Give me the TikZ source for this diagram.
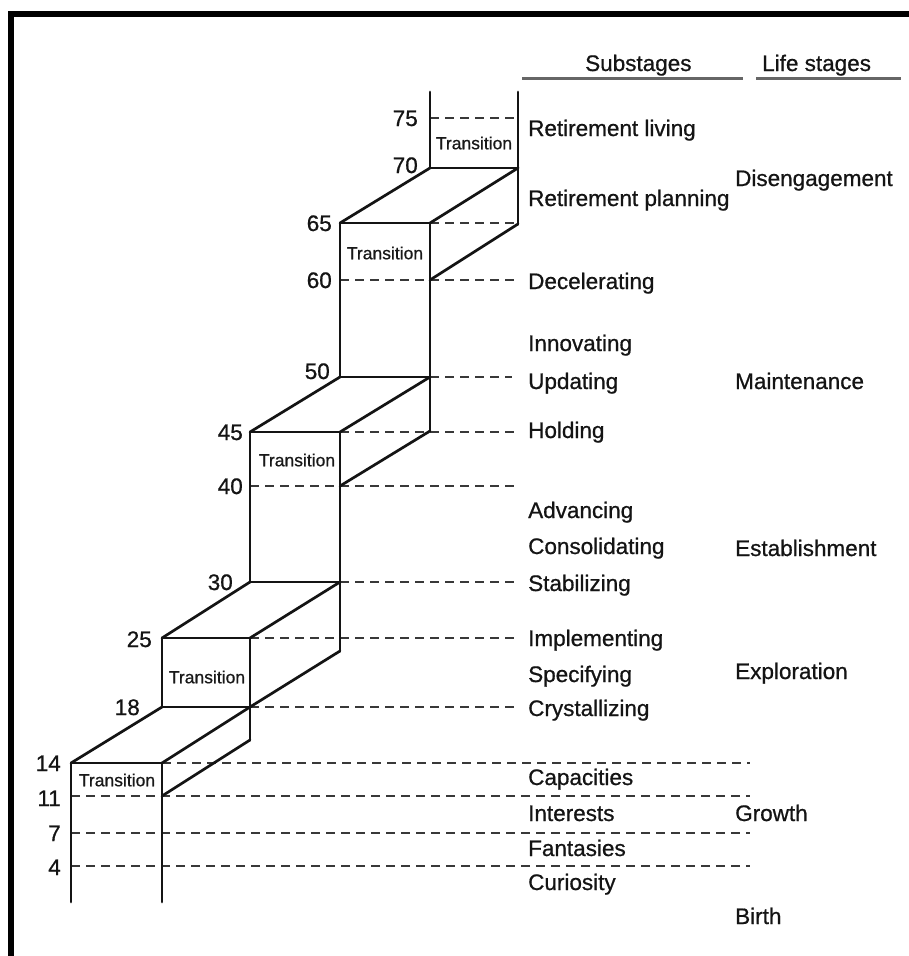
\documentclass[tikz,border=0pt]{standalone}
\usepackage{fontspec}
\setmainfont{Liberation Sans}[FakeBold=0.7]
\begin{document}
\begin{tikzpicture}[x=1pt,y=-1pt,
  edge/.style={line width=2.7pt, black!92, line cap=round, line join=round},
  guide/.style={line width=2.6pt, black!78, dash pattern=on 9pt off 6pt},
  rule/.style={line width=3pt, black!60},
  age/.style={anchor=base east, inner sep=0pt, text=black!92, font=\fontsize{22.5}{24}\selectfont},
  sub/.style={anchor=base west, inner sep=0pt, text=black!92, font=\fontsize{22.5}{26}\selectfont},
  trans/.style={inner sep=0pt, text=black!90, font=\fontsize{17.5}{20}\selectfont},
]
\useasboundingbox (0,0) rectangle (909,956);
\fill[white] (0,0) rectangle (909,956);

% frame along the top and left edges
\draw[line width=6pt, line join=miter] (11,960) -- (11,14) -- (912,14);

% ---- corner points of the stepped blocks ----
% step 1 (birth to 14)
\coordinate (a0)  at (71,902);
\coordinate (b0)  at (162,902);
\coordinate (a14) at (71,763);
\coordinate (b14) at (162,763);
\coordinate (a11) at (71,796);
\coordinate (b11) at (162,796);
\coordinate (a7)  at (71,833);
\coordinate (a4)  at (71,866);
% step 2 (18 to 25)
\coordinate (b18) at (162,707);
\coordinate (c18) at (250,707);
\coordinate (cS1) at (250,740);
\coordinate (b25) at (162,638);
\coordinate (c25) at (250,638);
% step 3 (30 to 45)
\coordinate (c30) at (250,582);
\coordinate (d30) at (340,582);
\coordinate (dS2) at (340,651);
\coordinate (c45) at (250,432);
\coordinate (d45) at (340,432);
\coordinate (c40) at (250,486);
\coordinate (d40) at (340,486);
% step 4 (50 to 65)
\coordinate (d50) at (340,377);
\coordinate (e50) at (430,377);
\coordinate (eS3) at (430,431);
\coordinate (d65) at (340,223);
\coordinate (e65) at (430,223);
\coordinate (d60) at (340,280);
\coordinate (e60) at (430,280);
% step 5 (70 onwards)
\coordinate (e70) at (430,168);
\coordinate (f70) at (518,168);
\coordinate (fS4) at (518,224);
\coordinate (e80) at (430,92);
\coordinate (f80) at (518,92);
\coordinate (e75) at (430,118);
\coordinate (f75) at (518,118);
\coordinate (f65) at (518,223);

% right ends of the guide lines
\coordinate (r60) at (516,280);
\coordinate (r50) at (512,377);
\coordinate (r45) at (516,432);
\coordinate (r40) at (516,486);
\coordinate (r30) at (516,582);
\coordinate (r25) at (516,638);
\coordinate (r18) at (516,707);
\coordinate (r14) at (750,763);
\coordinate (r11) at (750,796);
\coordinate (r7)  at (750,833);
\coordinate (r4)  at (750,866);

% ---- dashed guide lines ----
\draw[guide] (e75) -- (f75);
\draw[guide] (e65) -- (f65);
\draw[guide] (d60) -- (r60);
\draw[guide] (e50) -- (r50);
\draw[guide] (d45) -- (r45);
\draw[guide] (c40) -- (r40);
\draw[guide] (d30) -- (r30);
\draw[guide] (c25) -- (r25);
\draw[guide] (c18) -- (r18);
\draw[guide] (b14) -- (r14);
\draw[guide] (a11) -- (r11);
\draw[guide] (a7)  -- (r7);
\draw[guide] (a4)  -- (r4);

% ---- solid block outlines ----
% step 1
\draw[edge] (a0) -- (a14) -- (b14) -- (b0);
\draw[edge] (a14) -- (b18);
\draw[edge] (b14) -- (c18);
\draw[edge] (b11) -- (cS1);
% step 2
\draw[edge] (b18) -- (b25) -- (c25) -- (cS1);
\draw[edge] (b18) -- (c18);
\draw[edge] (b25) -- (c30);
\draw[edge] (c25) -- (d30);
\draw[edge] (c18) -- (dS2);
% step 3
\draw[edge] (c30) -- (c45) -- (d45) -- (dS2);
\draw[edge] (c30) -- (d30);
\draw[edge] (c45) -- (d50);
\draw[edge] (d45) -- (e50);
\draw[edge] (d40) -- (eS3);
% step 4
\draw[edge] (d50) -- (d65) -- (e65) -- (eS3);
\draw[edge] (d50) -- (e50);
\draw[edge] (d65) -- (e70);
\draw[edge] (e65) -- (f70);
\draw[edge] (e60) -- (fS4);
% step 5
\draw[edge] (e80) -- (e70) -- (f70);
\draw[edge] (f80) -- (fS4);

% ---- transition labels ----
\node[trans] (t1) at (117,780) {Transition};
\node[trans] (t2) at (207,677) {Transition};
\node[trans] (t3) at (297,460) {Transition};
\node[trans] (t4) at (385,253) {Transition};
\node[trans] (t5) at (474,143) {Transition};

% ---- ages ----
\node[age] (n75) at (418,126) {75};
\node[age] (n70) at (418,173) {70};
\node[age] (n65) at (332,231) {65};
\node[age] (n60) at (332,288) {60};
\node[age] (n50) at (330,379) {50};
\node[age] (n45) at (243,440) {45};
\node[age] (n40) at (243,494) {40};
\node[age] (n30) at (233,590) {30};
\node[age] (n25) at (152,647) {25};
\node[age] (n18) at (140,715) {18};
\node[age] (n14) at (61,771) {14};
\node[age] (n11) at (61,806) {11};
\node[age] (n7)  at (61,841) {7};
\node[age] (n4)  at (61,875) {4};

% ---- column headings ----
\node[sub] (hsub)  at (585,71) {Substages};
\node[sub] (hlife) at (762,71) {Life stages};
\draw[rule] (522,78) -- (743,78);
\draw[rule] (756,78) -- (901,78);

% ---- substages ----
\node[sub] (s1)  at (528,136) {Retirement living};
\node[sub] (s2)  at (528,206) {Retirement planning};
\node[sub] (s3)  at (528,289) {Decelerating};
\node[sub] (s4)  at (528,351) {Innovating};
\node[sub] (s5)  at (528,389) {Updating};
\node[sub] (s6)  at (528,438) {Holding};
\node[sub] (s7)  at (528,518) {Advancing};
\node[sub] (s8)  at (528,554) {Consolidating};
\node[sub] (s9)  at (528,591) {Stabilizing};
\node[sub] (s10) at (528,646) {Implementing};
\node[sub] (s11) at (528,682) {Specifying};
\node[sub] (s12) at (528,716) {Crystallizing};
\node[sub] (s13) at (528,785) {Capacities};
\node[sub] (s14) at (528,821) {Interests};
\node[sub] (s15) at (528,856) {Fantasies};
\node[sub] (s16) at (528,890) {Curiosity};

% ---- life stages ----
\node[sub] (l1) at (735,186) {Disengagement};
\node[sub] (l2) at (735,389) {Maintenance};
\node[sub] (l3) at (735,556) {Establishment};
\node[sub] (l4) at (735,679) {Exploration};
\node[sub] (l5) at (735,821) {Growth};
\node[sub] (l6) at (735,924) {Birth};
\end{tikzpicture}
\end{document}
